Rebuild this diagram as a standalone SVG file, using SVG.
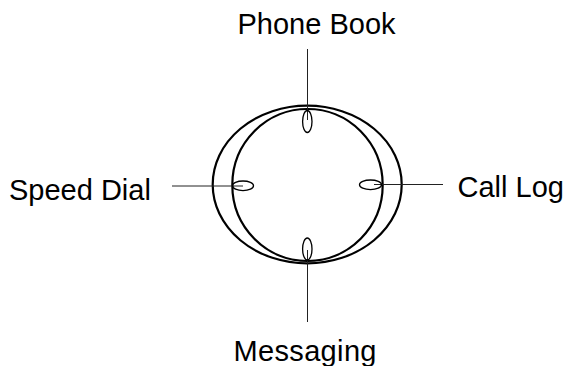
<svg xmlns="http://www.w3.org/2000/svg" width="567" height="366" viewBox="0 0 567 366">
<style>
.c{fill:none;stroke:#222;stroke-width:1}
.d{fill:none;stroke:#000;stroke-width:2.2}
.s{fill:none;stroke:#000;stroke-width:1.3}
text{font-family:"Liberation Sans",Arial,sans-serif;font-size:29px;fill:#000}
</style>
<rect width="567" height="366" fill="#fff"/>
<g id="dial">
<ellipse class="d" cx="307.200" cy="184.500" rx="94.500" ry="78.800"/>
<ellipse class="d" cx="307.500" cy="185" rx="75.200" ry="76"/>
</g>
<g id="connectors">
<line class="c" x1="307.500" y1="49" x2="307.500" y2="120"/>
<line class="c" x1="172" y1="186" x2="243" y2="186"/>
<line class="c" x1="374" y1="184.500" x2="443" y2="184.500"/>
<line class="c" x1="307.500" y1="250" x2="307.500" y2="322"/>
</g>
<g id="phone-book"><ellipse class="s" cx="307.300" cy="121.500" rx="4.700" ry="11"/><text x="237.500" y="33.500">Phone Book</text></g>
<g id="speed-dial"><ellipse class="s" cx="243" cy="185.800" rx="10.500" ry="4.800"/><text x="9" y="200">Speed Dial</text></g>
<g id="call-log"><ellipse class="s" cx="370.500" cy="184.800" rx="11" ry="4.800"/><text x="457.500" y="196.500">Call Log</text></g>
<g id="messaging"><ellipse class="s" cx="307.300" cy="249" rx="4.700" ry="11"/><text x="233.500" y="361" textLength="143">Messaging</text></g>
</svg>
